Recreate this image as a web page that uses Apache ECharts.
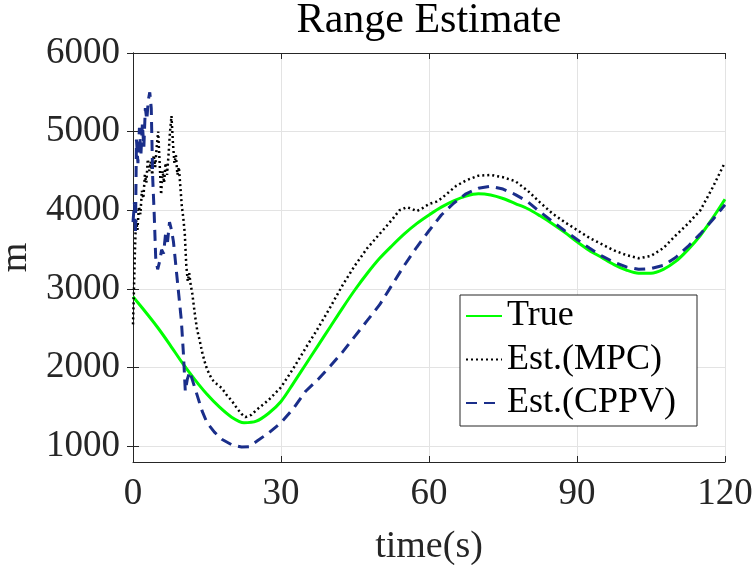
<!DOCTYPE html>
<html>
<head>
<meta charset="utf-8">
<script src="https://cdn.jsdelivr.net/npm/echarts@6/dist/echarts.min.js"></script>
<style>html,body{margin:0;padding:0;background:#fff;}#c{width:754px;height:565px;}</style>
</head>
<body>
<div id="c"></div>
<script>
const xTicks = [0, 30, 60, 90, 120];
const yTicks = [1000, 2000, 3000, 4000, 5000, 6000];

const timeTrue = [0,2.5,5,7.5,10,12.5,15,17.5,20,22.5,25,27.5,30,32.5,35,37.5,40,42.5,45,47.5,50,52.5,55,57.5,60,62.5,65,67.5,70,72.5,75,77.5,80,82.5,85,87.5,90,92.5,95,97.5,100,102.5,105,107.5,110,112.5,115,117.5,120];
const valTrue = [2900,2710,2510,2290,2060,1850,1660,1500,1370,1300,1320,1420,1570,1800,2040,2280,2520,2760,2990,3200,3390,3550,3700,3830,3940,4040,4120,4180,4210,4195,4150,4085,4020,3930,3830,3720,3600,3490,3400,3310,3240,3200,3200,3250,3350,3500,3680,3900,4140];

const timeMPC = [0,0.2,0.4,0.6,0.9,1.2,1.5,1.8,2.1,2.4,2.7,3.0,3.3,3.6,3.9,4.2,4.5,4.8,5.1,5.4,5.7,6.0,6.3,6.6,6.9,7.2,7.5,7.8,8.1,8.4,8.7,9.0,9.3,9.6,9.9,10.2,10.5,10.8,11.1,11.4,11.7,12.0,12.3,12.6,13.0,13.5,14.0,14.5,15,16,17,18,19,20,21,22,22.8,24,25,27.5,30,32.5,35,37.5,40,42.5,45,47.5,50,52.5,54,55.5,56.5,57.5,58.5,60,61.5,62.5,64,65.5,67.5,70,72.5,75,77.5,80,82.5,85,87.5,90,92.5,95,97.5,100,102.5,105,107.5,110,112.5,115,117.5,120];
const valMPC = [2550,3000,3500,3880,3750,4050,3950,4250,4150,4450,4350,4650,4500,4620,4450,4700,4550,4800,5000,4600,4200,4500,4350,4600,4450,4700,5000,5200,4850,4600,4700,4450,4550,4300,4050,3900,3700,3300,3100,3200,3050,2950,2800,2650,2480,2350,2200,2080,1980,1850,1790,1740,1650,1580,1490,1410,1370,1400,1460,1590,1750,1990,2250,2500,2770,3050,3300,3520,3700,3880,4000,4040,4020,3990,4020,4080,4110,4150,4230,4310,4380,4440,4450,4420,4370,4250,4100,3960,3850,3750,3650,3570,3490,3430,3390,3420,3520,3680,3830,4000,4290,4610];

const timeCPPV = [0,0.3,0.5,0.7,1.0,1.3,1.6,1.9,2.2,2.5,2.8,3.1,3.4,3.7,4.0,4.3,4.6,5.0,5.4,5.8,6.2,6.6,7.0,7.4,7.8,8.2,8.6,9.0,9.4,9.8,10.2,10.6,11.0,11.5,12.0,13,14,15,16.5,18,20,22,23.5,25,27.5,30,32.5,35,37.5,40,42.5,45,47.5,50,52.5,55,57.5,60,62.5,65,67.5,70,72.5,75,77.5,80,82.5,85,87.5,90,92.5,95,97.5,100,102.5,105,107.5,110,112.5,115,117.5,120];
const valCPPV = [3850,4100,3700,4900,4600,5050,4700,5100,4800,5300,5150,5400,5500,5300,4400,3950,3400,3250,3350,3500,3450,3700,3600,3850,3750,3600,3350,3100,2850,2600,2200,1700,1850,1950,1850,1650,1450,1300,1180,1090,1020,990,995,1060,1170,1300,1480,1700,1850,2020,2200,2400,2600,2800,3050,3300,3530,3740,3940,4090,4210,4280,4305,4270,4200,4110,3980,3860,3740,3630,3520,3420,3340,3280,3250,3260,3300,3400,3540,3700,3880,4070];

const seriesNames = ['True', 'Est.(MPC)', 'Est.(CPPV)'];

function pairs(ts, vs) { return ts.map((t, i) => [t, vs[i]]); }

const FONT = 'Liberation Serif';
const AX = '#262626';

const chart = echarts.init(document.getElementById('c'), null, {renderer: 'canvas'});
chart.setOption({
  animation: false,
  backgroundColor: '#fff',
  title: {
    text: 'Range Estimate',
    left: 429, top: 0, textAlign: 'center', padding: 0,
    textStyle: {fontFamily: FONT, fontSize: 42, fontWeight: 'normal', color: '#000'}
  },
  grid: {left: 133, right: 29, top: 53, bottom: 103, containLabel: false, outerBoundsMode: 'none'},
  legend: {
    orient: 'vertical', left: 460, top: 295,
    padding: [3, 5, 5, 5],
    itemWidth: 36, itemHeight: 14, itemGap: 7.5, itemTextGap: 5,
    borderColor: AX, borderWidth: 1, backgroundColor: '#fff',
    data: seriesNames,
    itemStyle: {color: 'rgba(0,0,0,0)', borderWidth: 0, opacity: 0},
    textStyle: {fontFamily: FONT, fontSize: 36, color: '#000', lineHeight: 36, width: 185}
  },
  xAxis: [{
    type: 'value', min: 0, max: 120, interval: 30,
    name: 'time(s)', nameLocation: 'middle', nameGap: 66,
    nameTextStyle: {fontFamily: FONT, fontSize: 38, color: AX},
    axisLine: {show: true, lineStyle: {color: AX, width: 1}},
    axisTick: {show: true, inside: true, length: 6, lineStyle: {color: AX}},
    axisLabel: {fontFamily: FONT, fontSize: 37, color: AX, margin: 14,
      formatter: v => xTicks.includes(v) ? String(v) : ''},
    splitLine: {show: true, lineStyle: {color: '#e3e3e3', width: 1}}
  }, {
    type: 'value', min: 0, max: 120, interval: 30, position: 'top',
    axisLine: {show: true, lineStyle: {color: AX, width: 1}},
    axisTick: {show: true, inside: true, length: 6, lineStyle: {color: AX}},
    axisLabel: {show: false}, splitLine: {show: false}
  }],
  yAxis: [{
    type: 'value', min: 800, max: 6000,
    name: 'm', nameLocation: 'middle', nameGap: 97, nameRotate: 90,
    nameTextStyle: {fontFamily: FONT, fontSize: 38, color: AX},
    axisLine: {show: true, lineStyle: {color: AX, width: 1}},
    axisTick: {show: true, inside: true, length: 6, lineStyle: {color: AX}, customValues: yTicks},
    axisLabel: {fontFamily: FONT, fontSize: 37, color: AX, margin: 13, customValues: yTicks,
      formatter: v => String(v)},
    splitLine: {show: true, lineStyle: {color: '#e3e3e3', width: 1}}
  }, {
    type: 'value', min: 800, max: 6000, position: 'right',
    axisLine: {show: true, lineStyle: {color: AX, width: 1}},
    axisTick: {show: true, inside: true, length: 6, lineStyle: {color: AX}, customValues: yTicks},
    axisLabel: {show: false, customValues: yTicks}, splitLine: {show: false}
  }],
  series: [{
    name: seriesNames[0], type: 'line', symbol: 'none', smooth: 0.3,
    data: pairs(timeTrue, valTrue),
    lineStyle: {color: '#00ff00', width: 3}, itemStyle: {color: '#00ff00'}, z: 3
  }, {
    name: seriesNames[1], type: 'line', symbol: 'none',
    data: pairs(timeMPC, valMPC),
    lineStyle: {color: '#000', width: 2.5, type: [2, 3]}, itemStyle: {color: '#000'}, z: 4
  }, {
    name: seriesNames[2], type: 'line', symbol: 'none',
    data: pairs(timeCPPV, valCPPV),
    lineStyle: {color: '#1a2e8a', width: 3, type: [11, 7]}, itemStyle: {color: '#1a2e8a'}, z: 5
  }]
});
</script>
</body>
</html>
